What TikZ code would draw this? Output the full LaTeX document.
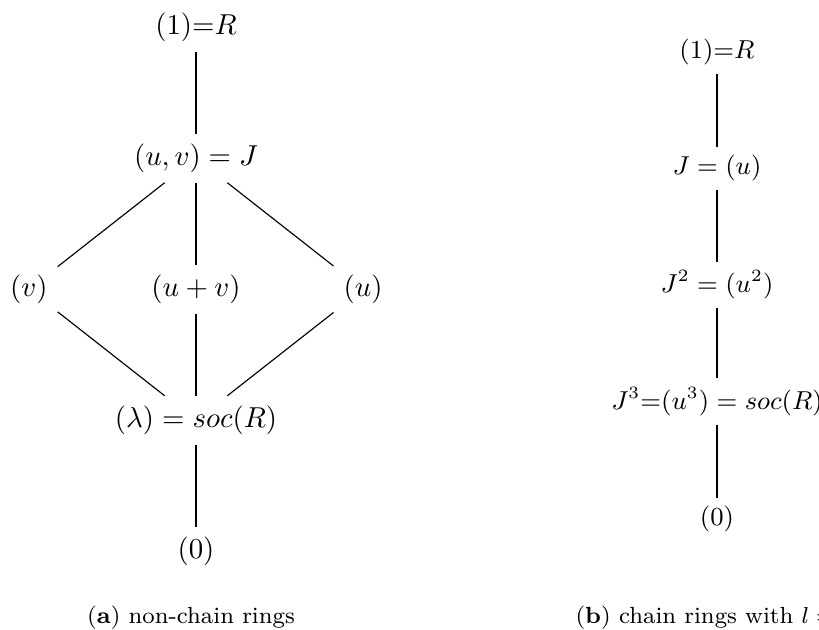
\documentclass[tikz,border=0pt]{standalone}
\usepackage{amsmath}
\usetikzlibrary{positioning}

\begin{document}
\begin{tikzpicture}[
    x=0.347pt, y=-0.347pt,
    on grid,
    ideal/.style={inner sep=3.333pt},
    chainideal/.style={inner sep=2.9pt, font=\fontsize{8.9}{10.7}\selectfont},
    link/.style={draw, line width=0.4pt},
    caption/.style={font=\fontsize{8.1}{10}\selectfont, inner sep=0pt}
]
    \useasboundingbox (0,0) rectangle (819,630);

    % (a) lattice of ideals
    \node[ideal] (one) at (196,27) {$(1){=}R$};
    \node[ideal, below=45.5pt of one] (J) {$(u,v) = J$};
    \node[ideal, below=45.5pt of J] (uv) {$(u+v)$};
    \node[ideal, left=58pt of uv] (v) {$(v)$};
    \node[ideal, right=58pt of uv] (u) {$(u)$};
    \node[ideal, below=45.5pt of uv] (soc) {$(\lambda) = soc(R)$};
    \node[ideal, below=45.5pt of soc] (zero) {$(0)$};

    \draw[link] (one) -- (J);
    \draw[link] (J) -- (v);
    \draw[link] (J) -- (uv);
    \draw[link] (J) -- (u);
    \draw[link] (v) -- (soc);
    \draw[link] (uv) -- (soc);
    \draw[link] (u) -- (soc);
    \draw[link] (soc) -- (zero);

    % (b) chain
    \node[chainideal] (cone) at (717,52) {$(1){=}R$};
    \node[chainideal, below=40.4pt of cone] (cJ) {$J = (u)$};
    \node[chainideal, below=40.4pt of cJ] (cJtwo) {$J^2 = (u^2)$};
    \node[chainideal, below=40.4pt of cJtwo] (cJthree) {$J^3{=}(u^3) = soc(R)$};
    \node[chainideal, below=41pt of cJthree] (czero) {$(0)$};

    \draw[link] (cone) -- (cJ);
    \draw[link] (cJ) -- (cJtwo);
    \draw[link] (cJtwo) -- (cJthree);
    \draw[link] (cJthree) -- (czero);

    \node[caption] (capa) at (191,618) {(\textbf{a}) non-chain rings};
    \node[caption, anchor=west] (capb) at (575,618) {(\textbf{b}) chain rings with $l =$};
\end{tikzpicture}
\end{document}
